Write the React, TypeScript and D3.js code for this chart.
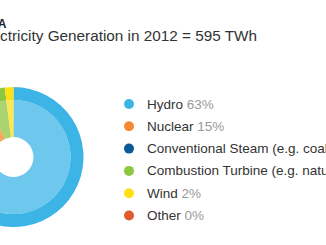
import React from "react";
import * as d3 from "d3";

const titleText = "CANADA";
const subtitleText = "Electricity Generation in 2012 = 595 TWh";
const categories = [
  "Hydro",
  "Nuclear",
  "Conventional Steam (e.g. coal, oil)",
  "Combustion Turbine (e.g. natural gas)",
  "Wind",
  "Other",
];
const shares = [63, 15, 15, 5, 2, 0];
const colors = ["#3db4e6", "#f58a32", "#0d5b96", "#8dc63f", "#ffe014", "#e05a2e"];
// order in which slices run clockwise from 12 o'clock
const pieOrder = [0, 2, 1, 3, 4, 5];

const W = 326;
const H = 245;
const FONT = "'Liberation Sans', Arial, Helvetica, sans-serif";

export default function App() {
  const cx = 13.5;
  const cy = 157;
  const rHole = 20;
  const rMid = 57;
  const rOuter = 70;

  const items = pieOrder.map((i) => ({ i, value: shares[i] }));
  const pie = d3
    .pie<{ i: number; value: number }>()
    .sort(null)
    .value((d) => d.value);
  const arcs = pie(items);
  const outerArc = d3
    .arc<d3.PieArcDatum<{ i: number; value: number }>>()
    .innerRadius(rMid)
    .outerRadius(rOuter);
  const innerArc = d3
    .arc<d3.PieArcDatum<{ i: number; value: number }>>()
    .innerRadius(rHole)
    .outerRadius(rMid);

  const legendY = d3
    .scaleLinear()
    .domain([0, categories.length - 1])
    .range([104, 104 + 22.3 * (categories.length - 1)]);

  return (
    <svg
      width={W}
      height={H}
      style={{ position: "absolute", left: 0, top: 0, background: "#fff" }}
      fontFamily={FONT}
    >
      <rect x={0} y={0} width={W} height={H} fill="#fff" />
      <text x={6.5} y={28} textAnchor="end" fontSize={12} fontWeight="bold" fill="#222">
        {titleText}
      </text>
      <text x={257} y={40.5} textAnchor="end" fontSize={15.3} fill="#333">
        {subtitleText}
      </text>

      <g transform={`translate(${cx},${cy})`}>
        {arcs.map((a) => (
          <g key={a.data.i}>
            <path d={innerArc(a) || ""} fill={colors[a.data.i]} fillOpacity={0.75} />
            <path d={outerArc(a) || ""} fill={colors[a.data.i]} />
          </g>
        ))}
      </g>

      <g>
        {categories.map((c, i) => {
          const y = legendY(i);
          return (
            <g key={c}>
              <circle cx={129} cy={y} r={5} fill={colors[i]} />
              <text x={147} y={y + 4.5} fontSize={13.5} fill="#333">
                {c}
                <tspan fill="#999">{` ${shares[i]}%`}</tspan>
              </text>
            </g>
          );
        })}
      </g>
    </svg>
  );
}
